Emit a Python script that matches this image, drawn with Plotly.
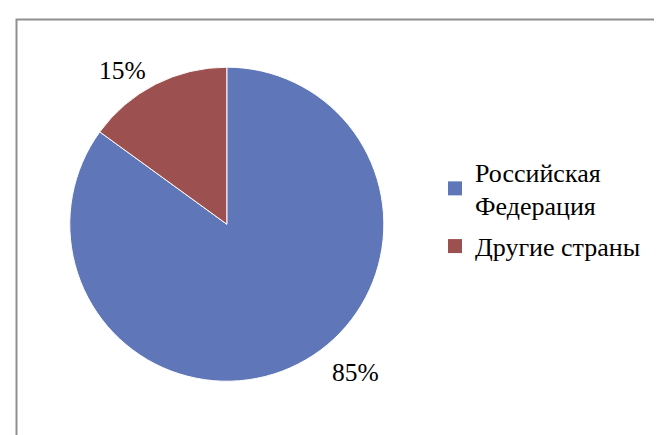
import plotly.graph_objects as go

# Data
countries = ["Российская<br>Федерация", "Другие страны"]
shares = [85, 15]
slice_colors = ["#5F77B8", "#9C5150"]
label_pos = [(348, 364), (114, 62)]  # label centres in pixels

SERIF = "Liberation Serif"
W, H = 662, 435

fig = go.Figure()

fig.add_trace(go.Pie(
    labels=countries,
    values=shares,
    sort=False,
    direction="clockwise",
    rotation=0,
    marker=dict(colors=slice_colors, line=dict(color="white", width=1)),
    textinfo="none",
    domain=dict(x=[0.093, 0.568], y=[0.142, 0.864]),
    showlegend=False,
    hoverinfo="label+percent",
))

# legend entries with bigger square keys
for i, (name, col) in enumerate(zip(countries, slice_colors)):
    fig.add_trace(go.Scatter(
        x=[None], y=[None], mode="markers", name=name,
        legendgroup=f"g{i}",
        marker=dict(symbol="square", size=14, color=col),
    ))

# percent labels
total = sum(shares)
for v, (px_, py_) in zip(shares, label_pos):
    fig.add_annotation(
        x=px_ / W, y=1 - py_ / H, xref="paper", yref="paper",
        xanchor="center", yanchor="middle",
        text=f"{round(v / total * 100)}%", showarrow=False,
        font=dict(family=SERIF, size=25.5, color="black"),
    )

# chart border
fig.add_shape(
    type="rect", xref="paper", yref="paper",
    x0=8.5 / W, x1=1.02, y0=-0.02, y1=1 - 11.5 / H,
    line=dict(color="#8f8f8f", width=2), layer="below",
)

fig.update_layout(
    width=W,
    height=H,
    margin=dict(l=0, r=0, t=0, b=0),
    paper_bgcolor="white",
    plot_bgcolor="white",
    font=dict(family=SERIF, size=26, color="black"),
    xaxis=dict(visible=False),
    yaxis=dict(visible=False),
    legend=dict(
        x=0.645, y=0.678, xanchor="left", yanchor="top",
        font=dict(family=SERIF, size=26, color="black"),
        itemsizing="trace",
        tracegroupgap=4,
        itemwidth=30,
    ),
)

fig.write_html("out.html")
